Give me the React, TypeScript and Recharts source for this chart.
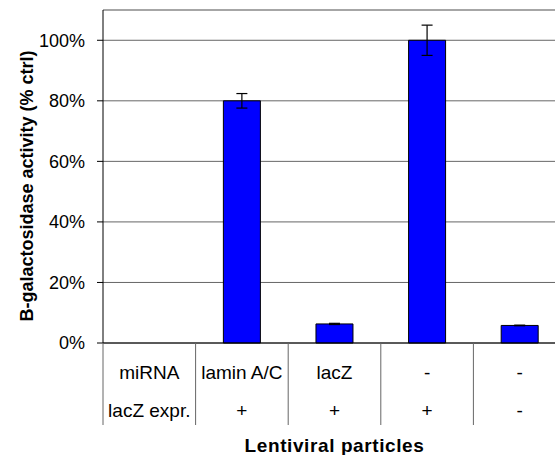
import { BarChart, Bar, XAxis, YAxis, CartesianGrid, ErrorBar, ReferenceLine } from 'recharts';

// table rows under the x axis, one entry per column
const miRNA = ['miRNA', 'lamin A/C', 'lacZ', '-', '-'];
const lacZExpr = ['lacZ expr.', '+', '+', '+', '-'];
// beta-galactosidase activity, % of control, first column is the row header
const activity = [null, 80, 6.3, 100, 5.8];
const activityErr = [null, 2.4, 0.2, 5, 0.1];
const yTicks = [0, 20, 40, 60, 80, 100];

const data = miRNA.map((_, i) => ({ col: String(i), value: activity[i], err: activityErr[i] }));

const FONT = '"Liberation Sans", Arial, sans-serif';
const CHART_W = 580;
const CHART_H = 455;
const MARGIN = { top: 10, right: 14, bottom: 0, left: 43 };
const Y_W = 60;
const BAND = (CHART_W - MARGIN.left - MARGIN.right - Y_W) / miRNA.length;

function TableTick(props: any) {
  const { x, y, index } = props;
  return (
    <g>
      <line x1={x - BAND / 2} x2={x - BAND / 2} y1={y} y2={y + 82} stroke="#666" />
      <text x={x} y={y + 36} textAnchor="middle" fontSize={19} fontFamily={FONT} fill="#000">
        {miRNA[index]}
      </text>
      <text x={x} y={y + 74} textAnchor="middle" fontSize={19} fontFamily={FONT} fill="#000">
        {lacZExpr[index]}
      </text>
    </g>
  );
}

export default function App() {
  return (
    <div style={{ position: 'absolute', left: 0, top: 0, width: 555, height: 455, overflow: 'hidden', background: '#fff' }}>
      <BarChart width={CHART_W} height={CHART_H} data={data} margin={MARGIN} barCategoryGap="30%">
        <CartesianGrid vertical={false} stroke="#666" />
        <ReferenceLine y={110} stroke="#999" />
        <XAxis
          dataKey="col"
          interval={0}
          height={112}
          tickLine={false}
          tickSize={0}
          tickMargin={0}
          axisLine={{ stroke: '#000' }}
          tick={<TableTick />}
          label={{
            value: 'Lentiviral particles',
            position: 'insideBottom',
            offset: 3,
            fontSize: 19,
            fontWeight: 'bold',
            fontFamily: FONT,
            letterSpacing: 0.6,
            fill: '#000',
          }}
        />
        <YAxis
          width={Y_W}
          domain={[0, 110]}
          ticks={yTicks}
          tickFormatter={(v) => `${v}%`}
          tickSize={6}
          tickMargin={12}
          axisLine={{ stroke: '#000' }}
          tickLine={{ stroke: '#000' }}
          tick={{ fontSize: 18, fontFamily: FONT, fill: '#000' }}
          label={{
            content: () => (
              <text
                x={27}
                y={186}
                transform="rotate(-90 27 186)"
                textAnchor="middle"
                dominantBaseline="central"
                fontSize={18}
                fontWeight="bold"
                fontFamily={FONT}
                fill="#000"
              >
                B-galactosidase activity (% ctrl)
              </text>
            ),
          }}
        />
        <Bar dataKey="value" fill="#0000ff" stroke="#000" strokeWidth={1} isAnimationActive={false}>
          <ErrorBar dataKey="err" width={5.5} stroke="#000" strokeWidth={1.2} />
        </Bar>
      </BarChart>
    </div>
  );
}
